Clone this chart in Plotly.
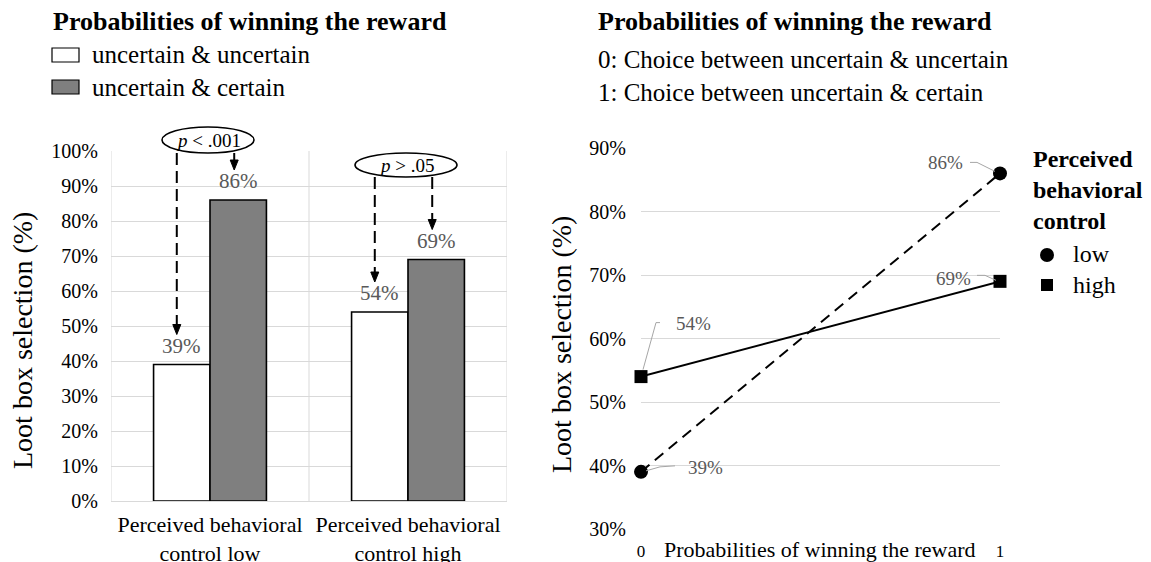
import plotly.graph_objects as go

# ---------------- data ----------------
bar_categories = ["Perceived behavioral<br>control low", "Perceived behavioral<br>control high"]
uncertain_uncertain = [0.39, 0.54]
uncertain_certain = [0.86, 0.69]
bar_series_names = ["uncertain &amp; uncertain", "uncertain &amp; certain"]
left_yticks = [0, 0.1, 0.2, 0.3, 0.4, 0.5, 0.6, 0.7, 0.8, 0.9, 1.0]

line_x = [0, 1]
pbc_low = [0.39, 0.86]
pbc_high = [0.54, 0.69]
right_yticks = [0.3, 0.4, 0.5, 0.6, 0.7, 0.8, 0.9]
p_labels = ["<i>p</i> &lt; .001", "<i>p</i> &gt; .05"]
y_title = "Loot box selection (%)"

# ---------------- layout geometry (pixels) ----------------
W, H = 1151, 562
L_X0, L_X1, L_YB, L_YT = 111, 507, 501, 151
R_X0, R_X1, R_YB, R_YT = 641, 1000, 529, 148
FONT = "Liberation Serif"
BARGAP = 0.43


def px(x):
    return x / W


def py(y):
    return 1 - y / H


def lx(v):  # left x data -> pixel (category axis range -0.5..1.5)
    return L_X0 + (v + 0.5) * (L_X1 - L_X0) / 2


def ly(v):
    return L_YB - v * (L_YB - L_YT)


def rx(v):
    return R_X0 + v * (R_X1 - R_X0)


def ry(v):
    return R_YB - (v - 0.3) / 0.6 * (R_YB - R_YT)


def note(x, y, text, size, color="black", xanchor="center", align="center", angle=0):
    return dict(x=px(x), y=py(y), xref="paper", yref="paper", text=text, showarrow=False,
                xanchor=xanchor, yanchor="middle", align=align, textangle=angle,
                font=dict(family=FONT, size=size, color=color))


fig = go.Figure()

fig.add_trace(go.Bar(x=[0, 1], y=uncertain_uncertain, name="uu",
                     marker=dict(color="white", line=dict(color="black", width=1.6)),
                     xaxis="x", yaxis="y", showlegend=False))
fig.add_trace(go.Bar(x=[0, 1], y=uncertain_certain, name="uc",
                     marker=dict(color="#7f7f7f", line=dict(color="black", width=1.6)),
                     xaxis="x", yaxis="y", showlegend=False))

fig.add_trace(go.Scatter(x=line_x, y=pbc_low, mode="lines+markers", cliponaxis=False,
                         line=dict(color="black", width=2, dash="11px,7px"),
                         marker=dict(symbol="circle", size=14, color="black"),
                         xaxis="x2", yaxis="y2", showlegend=False))
fig.add_trace(go.Scatter(x=line_x, y=pbc_high, mode="lines+markers", cliponaxis=False,
                         line=dict(color="black", width=2),
                         marker=dict(symbol="square", size=13, color="black"),
                         xaxis="x2", yaxis="y2", showlegend=False))

shapes = []
annotations = []

# bar value labels
half = (1 - BARGAP) / 4
for i in range(2):
    for val, off in ((uncertain_uncertain[i], -half), (uncertain_certain[i], half)):
        annotations.append(note(lx(i + off), ly(val) - 19, f"{round(val * 100)}%", 21, "#595959"))

# ellipses with p-values
ell = [(lx(0) - 2, 140, 46, 13), (lx(1) - 2, 165, 51, 12)]
for (cx, cy, a, b), txt in zip(ell, p_labels):
    shapes.append(dict(type="circle", xref="paper", yref="paper",
                       x0=px(cx - a), x1=px(cx + a), y0=py(cy + b), y1=py(cy - b),
                       line=dict(color="black", width=1.6), fillcolor="white"))
    annotations.append(note(cx, cy, txt, 19))

# arrows from ellipses to labels
arrows = []
for i, (cx, cy, a, b) in enumerate(ell):
    start = cy + b
    arrows.append((lx(i - half) - 5, start, ly(uncertain_uncertain[i]) - 30, True))
    arrows.append((lx(i + half) - 4, start, ly(uncertain_certain[i]) - 30, i == 1))
for x, y0, tip, dashed in arrows:
    shapes.append(dict(type="line", xref="paper", yref="paper",
                       x0=px(x), x1=px(x), y0=py(y0), y1=py(tip - 8),
                       line=dict(color="black", width=2, dash="12px,6px" if dashed else "solid")))
    shapes.append(dict(type="path", xref="paper", yref="paper",
                       path=f"M {px(x-4)},{py(tip-10)} L {px(x+4)},{py(tip-10)} L {px(x)},{py(tip)} Z",
                       fillcolor="black", line=dict(color="black", width=1)))

# y-axis titles
annotations.append(note(22, 341, y_title, 28, angle=-90))
annotations.append(note(561, 345, y_title, 28, angle=-90))

# left legend
annotations.append(note(51, 22, "<b>Probabilities of winning the reward</b>", 26, xanchor="left"))
for k, (name, col) in enumerate(zip(bar_series_names, ["white", "#7f7f7f"])):
    yc = 55 + 32 * k
    shapes.append(dict(type="rect", xref="paper", yref="paper",
                       x0=px(52), x1=px(79), y0=py(yc + 7), y1=py(yc - 7),
                       fillcolor=col, line=dict(color="black", width=1.2)))
    annotations.append(note(90, yc, name, 25, xanchor="left"))

# right header
annotations.append(note(596, 22, "<b>Probabilities of winning the reward</b>", 26, xanchor="left"))
annotations.append(note(596, 59, "0: Choice between uncertain &amp; uncertain", 25, xanchor="left"))
annotations.append(note(596, 92, "1: Choice between uncertain &amp; certain", 25, xanchor="left"))

# right x-axis title (on the tick label line)
annotations.append(note(820, 549, "Probabilities of winning the reward", 22))

# right legend
annotations.append(note(1031, 190, "<b>Perceived<br>behavioral<br>control</b>", 24,
                        xanchor="left", align="left"))
shapes.append(dict(type="circle", xref="paper", yref="paper",
                   x0=px(1040), x1=px(1054), y0=py(262), y1=py(248),
                   fillcolor="black", line=dict(color="black", width=0)))
shapes.append(dict(type="rect", xref="paper", yref="paper",
                   x0=px(1041), x1=px(1053), y0=py(291), y1=py(279),
                   fillcolor="black", line=dict(color="black", width=0)))
for txt, yc in (("low", 254), ("high", 285)):
    annotations.append(note(1071, yc, txt, 24, xanchor="left"))

# right data labels with leader lines (pixel offsets from the point)
label_specs = [
    (1, pbc_low[1], (-55, -11), [(-30, -11), (-23, -11), (-5, -2)]),
    (1, pbc_high[1], (-47, -3), [(-23, -6), (-15, -6), (-4, -1)]),
    (0, pbc_high[0], (52, -53), [(19, -54), (15, -54), (2, -7)]),
    (0, pbc_low[0], (64, -4), [(34, -6), (19, -5), (5, -1)]),
]
for xv, yv, (dx, dy), pts in label_specs:
    bx, by = rx(xv), ry(yv)
    annotations.append(note(bx + dx, by + dy, f"{round(yv * 100)}%", 19, "#595959"))
    path = "M " + " L ".join(f"{px(bx + ox)},{py(by + oy)}" for ox, oy in pts)
    shapes.append(dict(type="path", xref="paper", yref="paper", path=path,
                       line=dict(color="#a6a6a6", width=1)))

grid = "#d9d9d9"
fig.update_layout(
    template="none",
    width=W, height=H, autosize=False,
    margin=dict(l=0, r=0, t=0, b=0, pad=0),
    paper_bgcolor="white", plot_bgcolor="white",
    barmode="group", bargap=BARGAP, bargroupgap=0,
    font=dict(family=FONT, color="black"),
    showlegend=False,
    xaxis=dict(domain=[px(L_X0), px(L_X1)], anchor="y", range=[-0.5, 1.5], automargin=False,
               tickmode="array", tickvals=[0, 1], ticktext=bar_categories,
               showgrid=False, zeroline=False, showline=True, linecolor=grid, linewidth=1,
               ticks="", tickfont=dict(family=FONT, size=22, color="black"),
               ticklabelstandoff=4),
    yaxis=dict(domain=[py(L_YB), py(L_YT)], anchor="x", range=[0, 1], automargin=False,
               tickmode="array", tickvals=left_yticks, tickformat=".0%",
               showgrid=True, gridcolor=grid, gridwidth=1, zeroline=False,
               showline=False, ticks="", tickfont=dict(family=FONT, size=20, color="black"),
               ticklabelstandoff=12),
    xaxis2=dict(domain=[px(R_X0), px(R_X1)], anchor="y2", range=[0, 1], automargin=False,
                tickmode="array", tickvals=[0, 1], ticktext=["0", "1"],
                showgrid=True, gridcolor=grid, zeroline=False, showline=False,
                ticks="", tickfont=dict(family=FONT, size=17, color="black"),
                ticklabelstandoff=10),
    yaxis2=dict(domain=[py(R_YB), py(R_YT)], anchor="x2", range=[0.3, 0.9], automargin=False,
                tickmode="array", tickvals=right_yticks, tickformat=".0%",
                showgrid=True, gridcolor=grid, zeroline=False, showline=False,
                ticks="", tickfont=dict(family=FONT, size=20, color="black"),
                ticklabelstandoff=14),
    shapes=shapes, annotations=annotations,
)

# vertical gridlines at category boundaries for the bar chart
for b in (-0.5, 0.5, 1.5):
    fig.add_shape(type="line", xref="x", yref="y", x0=b, x1=b, y0=0, y1=1,
                  line=dict(color=grid, width=1), layer="below")

fig.write_html("out.html", config={"displayModeBar": False},
               post_script="document.body.style.margin='0';")
